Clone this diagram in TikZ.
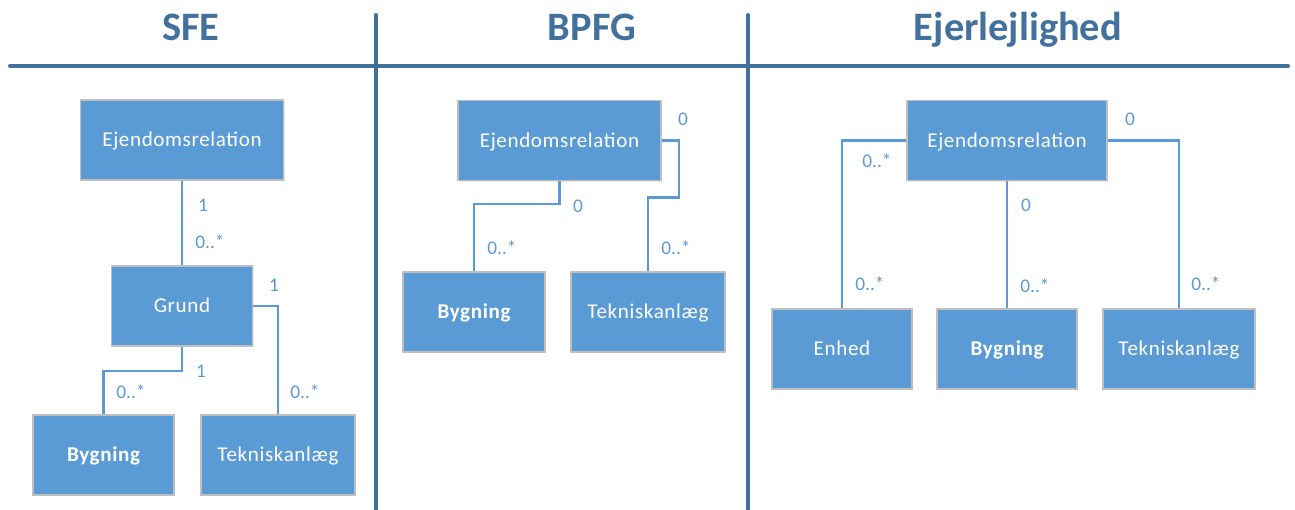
\documentclass[tikz,border=0pt]{standalone}
\usepackage{fontspec}
\setmainfont{Carlito}
\newfontfamily\kassefont[LetterSpace=3]{Carlito}
\usetikzlibrary{shadows}
\definecolor{titelblaa}{HTML}{41719C}
\definecolor{kasseblaa}{HTML}{5B9BD5}
\definecolor{kantgraa}{HTML}{BFBFBF}
\begin{document}
\begin{tikzpicture}[x=0.02cm, y=-0.02cm,
	kasse/.style={draw=kantgraa, line width=0.8pt, fill=kasseblaa, text=white,
		minimum height=1.6cm, inner sep=0pt, text height=7.6pt, text depth=0pt,
		font=\kassefont\fontsize{12}{14}\selectfont,
		drop shadow={opacity=0.2, shadow xshift=0.6pt, shadow yshift=-0.8pt}},
	forb/.style={draw=kasseblaa, line width=1.2pt},
	mult/.style={text=kasseblaa, inner sep=0pt, font=\fontsize{11}{13}\selectfont},
	titel/.style={text=titelblaa, anchor=base, font=\fontsize{23}{27}\selectfont\bfseries},
	skille/.style={draw=titelblaa, line width=2.3pt, line cap=round}]
	\useasboundingbox (0,0) rectangle (1295,510);
	% Skillelinjer og overskrifter
	\draw[skille] (10,66) -- (1288,66);
	\draw[skille] (376,15) -- (376,510);
	\draw[skille] (748,15) -- (748,510);
	\node[titel] (sfetitel) at (191,41) {SFE};
	\node[titel] (bpfgtitel) at (592,41) {BPFG};
	\node[titel] (ejltitel) at (1018,41) {Ejerlejlighed};
	% SFE
	\node[kasse, minimum width=4.06cm] (sfeejd) at (182,140) {Ejendomsrelation};
	\node[kasse, minimum width=2.82cm] (sfegrund) at (182,306) {Grund};
	\node[kasse, minimum width=2.82cm] (sfebyg) at (103.5,455) {\bfseries Bygning};
	\node[kasse, minimum width=3.08cm] (sfetek) at (278,455) {Tekniskanlæg};
	\draw[forb] (sfeejd) -- (sfegrund);
	\draw[forb] (sfegrund.south) -- ++(0,24) -| (sfebyg.north);
	\draw[forb] (sfegrund.east) -| (sfetek.north);
	\node[mult] (sfem1) at (203,205) {1};
	\node[mult] (sfem2) at (210,242) {0..*};
	\node[mult] (sfem3) at (201,371) {1};
	\node[mult] (sfem4) at (131,392) {0..*};
	\node[mult] (sfem5) at (274,285) {1};
	\node[mult] (sfem6) at (305,392) {0..*};
	% BPFG
	\node[kasse, minimum width=4.06cm] (bpfgejd) at (559.5,140.5) {Ejendomsrelation};
	\node[kasse, minimum width=2.84cm] (bpfgbyg) at (474,312) {\bfseries Bygning};
	\node[kasse, minimum width=3.08cm] (bpfgtek) at (648,312) {Tekniskanlæg};
	\draw[forb] (bpfgejd.south) -- ++(0,23) -| (bpfgbyg.north);
	\draw[forb] (bpfgejd.east) -- ++(17,0) -- ++(0,57) -| (bpfgtek.north);
	\node[mult] (bpfgm1) at (683,119) {0};
	\node[mult] (bpfgm2) at (578,206) {0};
	\node[mult] (bpfgm3) at (502,248) {0..*};
	\node[mult] (bpfgm4) at (676,248) {0..*};
	% Ejerlejlighed
	\node[kasse, minimum width=4cm] (ejlejd) at (1007,140.5) {Ejendomsrelation};
	\node[kasse, minimum width=2.8cm] (ejlenh) at (842,349) {Enhed};
	\node[kasse, minimum width=2.8cm] (ejlbyg) at (1007,349) {\bfseries Bygning};
	\node[kasse, minimum width=3.04cm] (ejltek) at (1179,349) {Tekniskanlæg};
	\draw[forb] (ejlejd.west) -| (ejlenh.north);
	\draw[forb] (ejlejd) -- (ejlbyg);
	\draw[forb] (ejlejd.east) -| (ejltek.north);
	\node[mult] (ejlm1) at (1130,119) {0};
	\node[mult] (ejlm2) at (877,161) {0..*};
	\node[mult] (ejlm3) at (1026,205) {0};
	\node[mult] (ejlm4) at (870,284) {0..*};
	\node[mult] (ejlm5) at (1035,286) {0..*};
	\node[mult] (ejlm6) at (1206,284) {0..*};
\end{tikzpicture}
\end{document}
